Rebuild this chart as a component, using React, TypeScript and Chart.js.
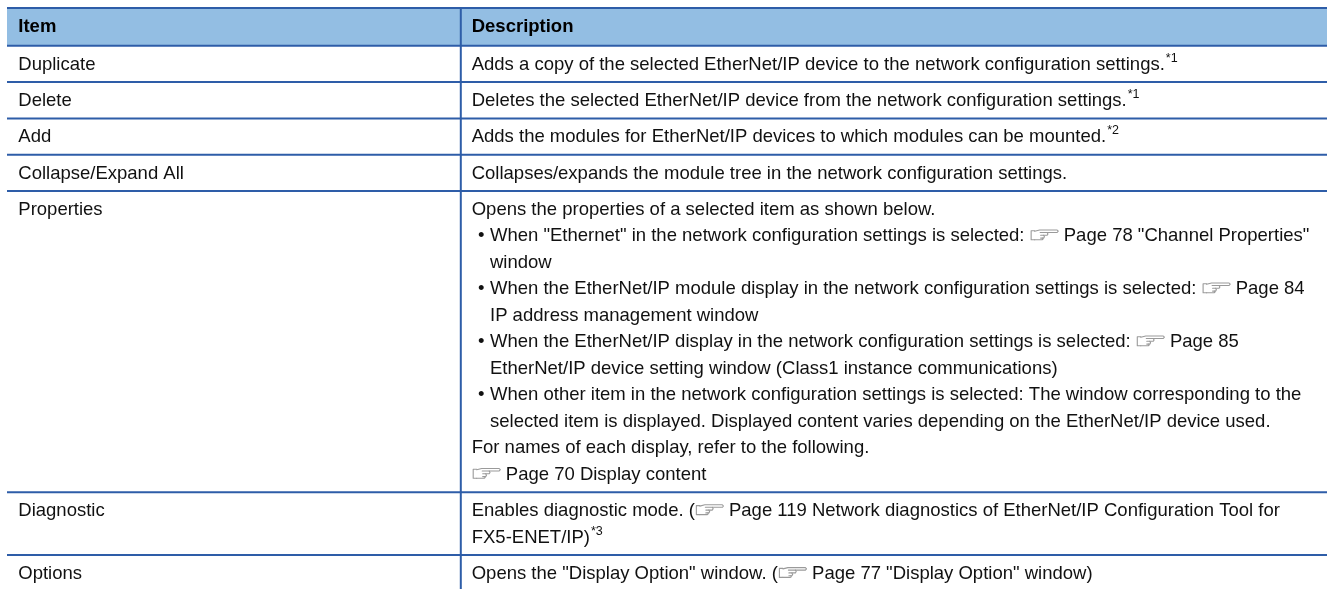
import React, { useEffect, useRef } from "react";
import { Chart, registerables } from "chart.js";

Chart.register(...registerables);

// ---------- DATA ----------
const headerItem = "Item";
const headerDescription = "Description";

const items = [
  "Duplicate",
  "Delete",
  "Add",
  "Collapse/Expand All",
  "Properties",
  "Diagnostic",
  "Options",
];

// "[ref]" = page reference icon, "^{..}" = superscript, "• " = bullet line, "  " = continuation line
const descDuplicate = [
  "Adds a copy of the selected EtherNet/IP device to the network configuration settings.^{*1}",
];
const descDelete = [
  "Deletes the selected EtherNet/IP device from the network configuration settings.^{*1}",
];
const descAdd = [
  "Adds the modules for EtherNet/IP devices to which modules can be mounted.^{*2}",
];
const descCollapse = [
  "Collapses/expands the module tree in the network configuration settings.",
];
const descProperties = [
  "Opens the properties of a selected item as shown below.",
  '• When "Ethernet" in the network configuration settings is selected: [ref] Page 78 "Channel Properties"',
  "  window",
  "• When the EtherNet/IP module display in the network configuration settings is selected: [ref] Page 84",
  "  IP address management window",
  "• When the EtherNet/IP display in the network configuration settings is selected: [ref] Page 85",
  "  EtherNet/IP device setting window (Class1 instance communications)",
  "• When other item in the network configuration settings is selected: The window corresponding to the",
  "  selected item is displayed. Displayed content varies depending on the EtherNet/IP device used.",
  "For names of each display, refer to the following.",
  "[ref] Page 70 Display content",
];
const descDiagnostic = [
  "Enables diagnostic mode. ([ref] Page 119 Network diagnostics of EtherNet/IP Configuration Tool for",
  "FX5-ENET/IP)^{*3}",
];
const descOptions = [
  'Opens the "Display Option" window. ([ref] Page 77 "Display Option" window)',
];

const descriptions = [
  descDuplicate,
  descDelete,
  descAdd,
  descCollapse,
  descProperties,
  descDiagnostic,
  descOptions,
];

// ---------- LAYOUT / STYLE ----------
const W = 1334;
const H = 589;
const TABLE_LEFT = 7;
const TABLE_RIGHT = 1327;
const COL_SPLIT = 460.8;
const TABLE_TOP = 8;
const HEADER_H = 37.8;
const ROW_PAD = 9.8;
const LINE_H = 26.5;
const BASE_OFF = 23.8;
const ITEM_X = 18.3;
const DESC_X = 471.7;
const BULLET_X = 478;
const INDENT_X = 490;
const FONT = '"Liberation Sans", Arial, Helvetica, sans-serif';
const FS = 18.5;
const SUP_FS = 12.5;
const SUP_RAISE = 8;
const ICON_W = 29;
const HEADER_BG = "#93BEE3";
const LINE_COLOR = "#2E5DA8";
const ICON_COLOR = "#9A9A9A";
const TEXT_COLOR = "#111111";

function drawRefIcon(ctx: CanvasRenderingContext2D, x: number, baseline: number) {
  const ox = x + 1;
  const oy = baseline - 12;
  const L = (pts: number[][]) => {
    ctx.beginPath();
    pts.forEach(([px, py], i) => (i === 0 ? ctx.moveTo(ox + px, oy + py) : ctx.lineTo(ox + px, oy + py)));
    ctx.stroke();
  };
  ctx.save();
  ctx.strokeStyle = ICON_COLOR;
  ctx.lineWidth = 1.1;
  ctx.lineJoin = "round";
  ctx.lineCap = "round";
  // cuff
  L([[4, 1.5], [0.5, 1.5], [0.5, 10.5], [4, 10.5]]);
  // hand outline with pointing finger
  L([[4, 2], [9, 0.7], [26.5, 0.7], [27.6, 1.9], [26.5, 3.2], [16.5, 3.2]]);
  L([[9.5, 3.2], [16.5, 3.2], [17.3, 4.6], [16.5, 6], [10, 6]]);
  L([[13, 6], [13.8, 7.5], [13, 8.8], [10, 8.8]]);
  L([[12, 8.8], [12.4, 9.8], [11.5, 10.5], [4, 10.5]]);
  ctx.restore();
}

function drawRich(ctx: CanvasRenderingContext2D, text: string, x: number, y: number) {
  const parts = text.split(/(\[ref\]|\^\{[^}]*\})/);
  let cx = x;
  for (const p of parts) {
    if (!p) continue;
    if (p === "[ref]") {
      drawRefIcon(ctx, cx, y);
      cx += ICON_W;
    } else if (p.startsWith("^{")) {
      const s = p.slice(2, -1);
      ctx.save();
      ctx.font = `${SUP_FS}px ${FONT}`;
      ctx.fillText(s, cx + 1, y - SUP_RAISE);
      cx += ctx.measureText(s).width + 1;
      ctx.restore();
    } else {
      ctx.font = `${FS}px ${FONT}`;
      ctx.fillText(p, cx, y);
      cx += ctx.measureText(p).width;
    }
  }
}

const tablePlugin = {
  id: "tablePlugin",
  beforeDraw(chart: any) {
    const ctx: CanvasRenderingContext2D = chart.ctx;
    const xs = chart.scales.x;
    const ys = chart.scales.y;
    const X = (v: number) => xs.getPixelForValue(v);
    const Y = (v: number) => ys.getPixelForValue(v);

    const bounds: number[] = [TABLE_TOP, TABLE_TOP + HEADER_H];
    descriptions.forEach((d) => {
      bounds.push(bounds[bounds.length - 1] + ROW_PAD + d.length * LINE_H);
    });

    ctx.save();
    ctx.fillStyle = "#ffffff";
    ctx.fillRect(0, 0, chart.width, chart.height);

    // header background
    ctx.fillStyle = HEADER_BG;
    ctx.fillRect(X(TABLE_LEFT), Y(bounds[0]), X(TABLE_RIGHT) - X(TABLE_LEFT), Y(bounds[1]) - Y(bounds[0]));

    ctx.textBaseline = "alphabetic";
    ctx.textAlign = "left";
    ctx.fillStyle = "#000000";
    ctx.font = `bold ${FS}px ${FONT}`;
    ctx.fillText(headerItem, X(ITEM_X), Y(bounds[0] + BASE_OFF));
    ctx.fillText(headerDescription, X(DESC_X), Y(bounds[0] + BASE_OFF));

    ctx.fillStyle = TEXT_COLOR;
    items.forEach((item, i) => {
      const top = bounds[i + 1];
      ctx.font = `${FS}px ${FONT}`;
      ctx.fillText(item, X(ITEM_X), Y(top + BASE_OFF));
      descriptions[i].forEach((line, j) => {
        const by = Y(top + BASE_OFF + j * LINE_H);
        if (line.startsWith("• ")) {
          ctx.font = `${FS}px ${FONT}`;
          ctx.fillText("•", X(BULLET_X), by);
          drawRich(ctx, line.slice(2), X(INDENT_X), by);
        } else if (line.startsWith("  ")) {
          drawRich(ctx, line.slice(2), X(INDENT_X), by);
        } else {
          drawRich(ctx, line, X(DESC_X), by);
        }
      });
    });

    // rules
    ctx.strokeStyle = LINE_COLOR;
    ctx.lineWidth = 2;
    bounds.forEach((b) => {
      ctx.beginPath();
      ctx.moveTo(X(TABLE_LEFT), Y(b));
      ctx.lineTo(X(TABLE_RIGHT), Y(b));
      ctx.stroke();
    });
    ctx.beginPath();
    ctx.moveTo(X(COL_SPLIT), Y(bounds[0]));
    ctx.lineTo(X(COL_SPLIT), Y(bounds[bounds.length - 1]));
    ctx.stroke();
    ctx.restore();
  },
};

export default function App() {
  const ref = useRef<HTMLCanvasElement | null>(null);
  useEffect(() => {
    if (!ref.current) return;
    const chart = new Chart(ref.current, {
      type: "scatter",
      data: { datasets: [] },
      options: {
        animation: false,
        responsive: false,
        devicePixelRatio: 1,
        layout: { padding: 0 },
        plugins: { legend: { display: false }, tooltip: { enabled: false } },
        scales: {
          x: { type: "linear", min: 0, max: W, display: false },
          y: { type: "linear", min: 0, max: H, reverse: true, display: false },
        },
      },
      plugins: [tablePlugin],
    } as any);
    return () => chart.destroy();
  }, []);
  return (
    <div style={{ position: "fixed", left: 0, top: 0, width: W, height: H, background: "#fff" }}>
      <canvas ref={ref} width={W} height={H} style={{ display: "block" }} />
    </div>
  );
}
